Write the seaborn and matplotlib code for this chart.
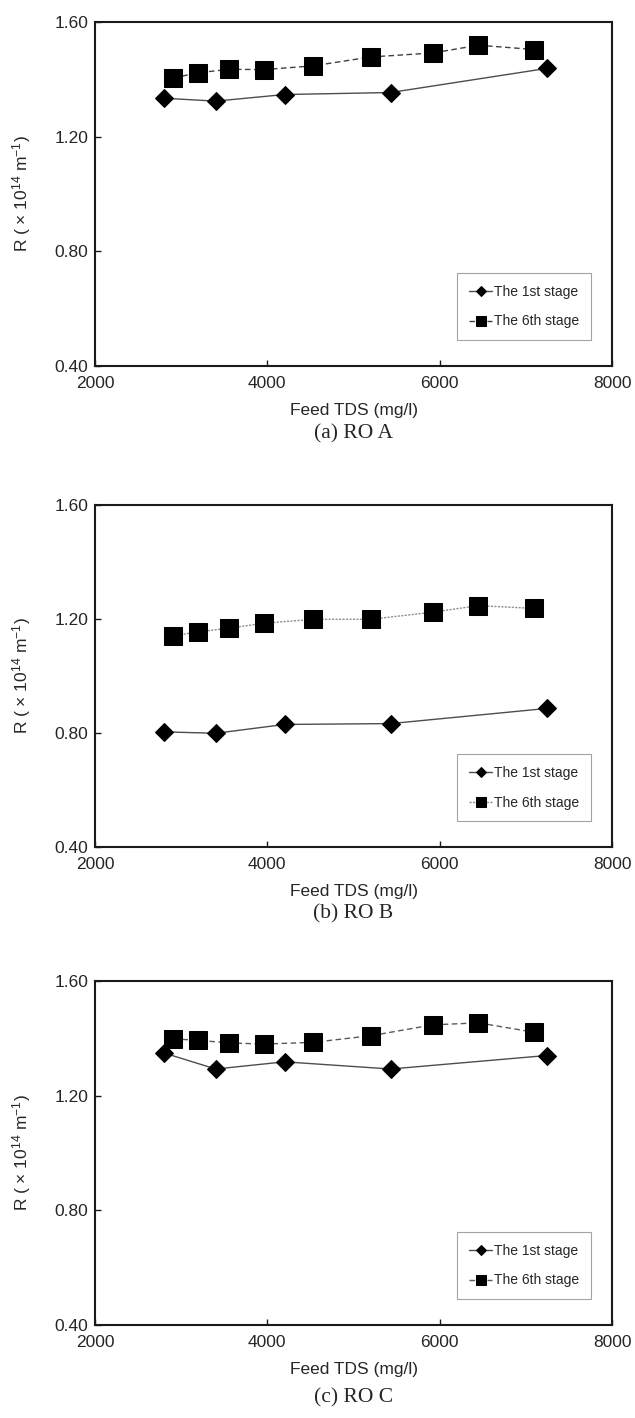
"""Specific resistance vs feed TDS for three RO plants."""

import matplotlib
matplotlib.use("Agg")
import matplotlib.pyplot as plt
import seaborn as sns
import pandas as pd

sns.set_style("ticks")
plt.rcParams['font.family'] = ['Liberation Sans', 'DejaVu Sans']
plt.rcParams['mathtext.default'] = 'regular'
plt.rcParams['xtick.direction'] = 'in'
plt.rcParams['ytick.direction'] = 'in'

# Feed TDS (mg/l)
tds_stage1 = [2800, 3400, 4200, 5430, 7240]
tds_stage6 = [2910, 3200, 3560, 3960, 4530, 5200, 5920, 6450, 7100]

# R (x 10^14 m^-1)
ro_a_stage1 = [1.334, 1.324, 1.347, 1.354, 1.438]
ro_a_stage6 = [1.405, 1.423, 1.435, 1.434, 1.447, 1.478, 1.492, 1.519, 1.504]

ro_b_stage1 = [0.804, 0.799, 0.830, 0.833, 0.886]
ro_b_stage6 = [1.141, 1.155, 1.168, 1.185, 1.199, 1.199, 1.224, 1.247, 1.237]

ro_c_stage1 = [1.349, 1.293, 1.318, 1.293, 1.340]
ro_c_stage6 = [1.398, 1.393, 1.384, 1.380, 1.386, 1.409, 1.447, 1.454, 1.421]

captions = ["(a) RO A", "(b) RO B", "(c) RO C"]
y_ticks = [0.40, 0.80, 1.20, 1.60]
x_ticks = [2000, 4000, 6000, 8000]

panels = [
    (ro_a_stage1, ro_a_stage6, (0, (4, 2.5)), '0.25'),
    (ro_b_stage1, ro_b_stage6, (0, (1.5, 1)), '0.55'),
    (ro_c_stage1, ro_c_stage6, (0, (4, 2.5)), '0.35'),
]

W, H = 635, 1418
fig = plt.figure(figsize=(W / 100, H / 100), dpi=100)

ax_tops = [22, 505, 981]
ax_heights = [344, 342, 344]
left, right = 95, 612
caption_y = [434, 914, 1398]

for i, (s1, s6, dash, c6) in enumerate(panels):
    top = ax_tops[i]
    hgt = ax_heights[i]
    ax = fig.add_axes([left / W, 1 - (top + hgt) / H,
                       (right - left) / W, hgt / H])

    df1 = pd.DataFrame({"tds": tds_stage1, "R": s1})
    df6 = pd.DataFrame({"tds": tds_stage6, "R": s6})

    sns.lineplot(data=df1, x="tds", y="R", ax=ax, color='0.3', linewidth=1.0,
                 marker='D', markersize=9, markerfacecolor='black',
                 markeredgecolor='black', label="The 1st stage")
    sns.lineplot(data=df6, x="tds", y="R", ax=ax, color=c6, linewidth=1.0,
                 linestyle=dash, marker='s', markersize=12.5,
                 markerfacecolor='black', markeredgecolor='black',
                 label="The 6th stage")

    ax.set_xlim(2000, 8000)
    ax.set_ylim(0.40, 1.60)
    ax.set_xticks(x_ticks)
    ax.set_yticks(y_ticks)
    ax.set_yticklabels([f"{v:.2f}" for v in y_ticks])
    ax.tick_params(labelsize=12.5, length=4, width=1, color='0.1', pad=5)
    ax.tick_params(axis='x', pad=7)
    for sp in ax.spines.values():
        sp.set_visible(True)
        sp.set_linewidth(1.5)
        sp.set_color('0.1')

    ax.set_xlabel("Feed TDS (mg/l)", fontsize=12.5, labelpad=9)
    ax.set_ylabel(r"R ( $\times$ 10$^{14}$ m$^{-1}$)", fontsize=12.5, labelpad=15)

    leg = ax.legend(loc='lower right', bbox_to_anchor=(0.96, 0.075),
                    fontsize=10, frameon=True, fancybox=False, markerscale=0.6,
                    handlelength=1.7, handletextpad=0.15, borderpad=0.85,
                    labelspacing=1.1, borderaxespad=0)
    leg.get_frame().set_edgecolor('0.55')
    leg.get_frame().set_linewidth(0.8)

    fig.text((left + right) / 2 / W, 1 - caption_y[i] / H, captions[i],
             ha='center', va='center', fontsize=15.5,
             family=['Liberation Serif', 'DejaVu Serif'])

fig.savefig("out.png", dpi=100)
